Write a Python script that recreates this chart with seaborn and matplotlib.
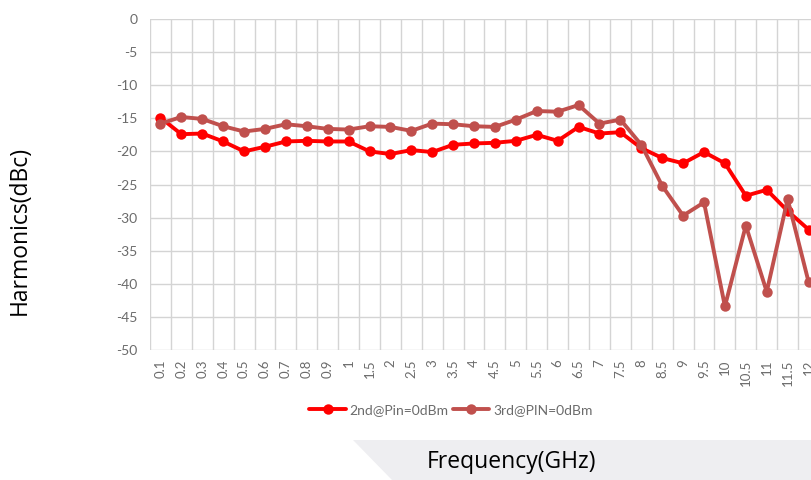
import numpy as np
import pandas as pd
import matplotlib
matplotlib.use('Agg')
import matplotlib.pyplot as plt
from matplotlib.patches import Polygon
import seaborn as sns

freq = ['0.1', '0.2', '0.3', '0.4', '0.5', '0.6', '0.7', '0.8', '0.9', '1',
        '1.5', '2', '2.5', '3', '3.5', '4', '4.5', '5', '5.5', '6', '6.5',
        '7', '7.5', '8', '8.5', '9', '9.5', '10', '10.5', '11', '11.5', '12']

second = [-14.9, -17.4, -17.3, -18.5, -20.0, -19.3, -18.5, -18.4, -18.5, -18.5,
          -20.0, -20.4, -19.8, -20.1, -19.0, -18.8, -18.7, -18.4, -17.5, -18.4,
          -16.3, -17.3, -17.1, -19.5, -21.0, -21.8, -20.1, -21.8, -26.7, -25.8,
          -29.0, -31.8]

third = [-15.8, -14.8, -15.1, -16.2, -17.0, -16.6, -15.9, -16.2, -16.6, -16.7,
         -16.2, -16.3, -16.9, -15.8, -15.9, -16.2, -16.3, -15.2, -13.9, -14.0,
         -13.0, -15.8, -15.2, -19.0, -25.2, -29.7, -27.7, -43.4, -31.2, -41.2,
         -27.2, -39.7]

df = pd.DataFrame({'freq': freq, 'second': second, 'third': third})

sns.set_theme(style='white')
plt.rcParams['font.family'] = ['Open Sans', 'DejaVu Sans']
plt.rcParams['axes.unicode_minus'] = False

fig = plt.figure(figsize=(8.11, 4.8), dpi=100)

# grey band behind x label
band = Polygon([(353 / 811, 40 / 480), (1.0, 40 / 480), (1.0, 0.0), (392 / 811, 0.0)],
               closed=True, transform=fig.transFigure, facecolor='#eeeef1',
               edgecolor='none', zorder=0)
fig.patches.append(band)

ax = fig.add_axes([150 / 811, 130 / 480, 669 / 811, 331 / 480])

sns.lineplot(data=df, x='freq', y='second', sort=False, ax=ax, color='#ff0000',
             linewidth=2.8, marker='o', markersize=7.5, markeredgewidth=0,
             label='2nd@Pin=0dBm')
sns.lineplot(data=df, x='freq', y='third', sort=False, ax=ax, color='#c0504d',
             linewidth=2.8, marker='o', markersize=7.5, markeredgewidth=0,
             label='3rd@PIN=0dBm')

n = len(freq)
ax.set_xlim(-0.5, n - 0.5)
ax.set_ylim(-50, 0)
ax.set_yticks(np.arange(-50, 1, 5))
ax.set_xticks(range(n))
ax.set_xticklabels(freq, rotation=90, family='Lato', fontsize=9.5, color='#6b6b6b')
for t in ax.get_yticklabels():
    t.set_family('Lato')
    t.set_fontsize(10)
    t.set_color('#6b6b6b')

# gridlines on category boundaries like the spreadsheet chart
for b in np.arange(-0.5, n, 1.0):
    ax.axvline(b, color='#d4d4d4', linewidth=1.0, zorder=0)
for yv in np.arange(-50, 1, 5):
    ax.axhline(yv, color='#d4d4d4', linewidth=1.0, zorder=0)

for s in ax.spines.values():
    s.set_visible(False)
ax.tick_params(axis='both', length=0)
ax.tick_params(axis='y', pad=9)
ax.tick_params(axis='x', pad=7)
ax.set_xlabel('')
ax.set_ylabel('')

fig.text(20 / 811, 1 - 230 / 480, 'Harmonics(dBc)', rotation=90, ha='center',
         va='center', fontsize=16.5, color='#000000')
fig.text(511 / 811, 1 - 462 / 480, 'Frequency(GHz)', ha='center', va='center',
         fontsize=16.5, color='#000000')

ax.legend(loc='center', bbox_to_anchor=(451 / 811, 1 - 410 / 480),
          bbox_transform=fig.transFigure, ncol=2, frameon=False,
          prop={'family': 'Lato', 'size': 10}, labelcolor='#6b6b6b',
          handlelength=2.6, handletextpad=0.3, columnspacing=0.3)

fig.savefig('out.png', dpi=100)
